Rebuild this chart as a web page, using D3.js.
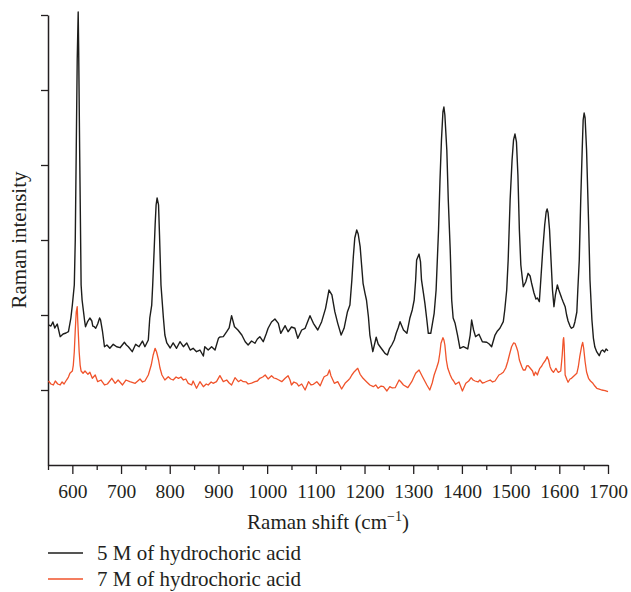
<!DOCTYPE html>
<html>
<head>
<meta charset="utf-8">
<script src="https://cdn.jsdelivr.net/npm/d3@7"></script>
<style>
  html, body { margin: 0; padding: 0; background: #fff; }
  svg { display: block; }
</style>
</head>
<body>
<svg id="chart" width="631" height="592"></svg>
<script>
// Raman spectra: [Raman shift (cm^-1), intensity (a.u.)]
const spectrum5M = [
  [551,1867],[556,1853],[560,1907],[564,1827],[569,1880],[575,1711],[581,1747],[587,1760],[592,1777],[597,1960],
  [600,2133],[604,2400],[606,3000],[608,4200],[610,5400],[612,6040],[613,5533],[615,4200],[618,2400],[620,2200],
  [622,2093],[625,1933],[627,1844],[631,1907],[636,1960],[640,1920],[642,1853],[645,1844],[648,1823],[652,1880],
  [656,1960],[658,1933],[662,1777],[666,1577],[671,1600],[677,1556],[684,1609],[691,1577],[698,1564],[707,1636],
  [711,1600],[715,1577],[723,1511],[730,1609],[737,1577],[744,1653],[749,1577],[756,1667],[759,1960],[763,2133],
  [765,2400],[768,2867],[770,3200],[772,3467],[774,3560],[777,3467],[779,3067],[782,2400],[787,1960],[790,1733],
  [794,1627],[801,1560],[807,1627],[814,1556],[821,1644],[828,1577],[835,1627],[842,1533],[848,1556],[855,1511],
  [862,1533],[869,1453],[872,1577],[879,1533],[886,1577],[893,1533],[900,1689],[903,1707],[910,1711],[917,1777],
  [922,1827],[927,1991],[933,1844],[940,1800],[948,1733],[955,1644],[961,1600],[968,1653],[975,1623],[980,1680],
  [985,1711],[992,1644],[998,1747],[1002,1823],[1009,1907],[1016,1947],[1023,1889],[1028,1756],[1037,1857],[1043,1777],
  [1050,1840],[1057,1823],[1063,1689],[1071,1800],[1078,1823],[1083,1907],[1088,1991],[1095,1889],[1104,1800],[1112,1911],
  [1120,2089],[1127,2333],[1133,2267],[1139,2044],[1145,1889],[1152,1733],[1158,1823],[1165,2044],[1170,2133],[1174,2467],
  [1177,2777],[1180,3027],[1184,3133],[1187,3080],[1191,2911],[1194,2667],[1197,2423],[1201,2289],[1204,2200],[1208,1977],
  [1211,1733],[1217,1511],[1224,1703],[1228,1613],[1232,1577],[1237,1533],[1242,1489],[1247,1467],[1251,1547],[1256,1600],
  [1261,1667],[1265,1756],[1269,1827],[1273,1911],[1280,1800],[1287,1756],[1293,1956],[1298,2067],[1302,2200],[1305,2467],
  [1307,2733],[1312,2813],[1315,2707],[1317,2467],[1321,2293],[1324,2156],[1328,1933],[1331,1756],[1336,1756],[1339,1867],
  [1343,2023],[1347,2333],[1352,3133],[1355,3800],[1358,4333],[1361,4707],[1363,4773],[1365,4667],[1369,4200],[1372,3533],
  [1376,2867],[1379,2200],[1382,1960],[1386,1889],[1391,1733],[1396,1556],[1403,1577],[1412,1547],[1417,1733],[1420,1933],
  [1424,1800],[1428,1711],[1435,1743],[1442,1644],[1451,1636],[1456,1613],[1461,1577],[1468,1733],[1473,1787],[1478,1823],
  [1485,1911],[1488,2067],[1492,2333],[1495,2733],[1499,3533],[1503,4067],[1506,4333],[1509,4413],[1512,4307],[1515,3867],
  [1518,3133],[1521,2667],[1526,2377],[1531,2440],[1536,2556],[1540,2520],[1543,2427],[1548,2293],[1552,2213],[1555,2227],
  [1559,2177],[1562,2467],[1566,2867],[1570,3200],[1573,3373],[1575,3413],[1577,3360],[1580,3133],[1583,2733],[1586,2333],
  [1589,2111],[1592,2267],[1596,2400],[1599,2333],[1605,2223],[1608,2173],[1612,2111],[1615,2000],[1618,1920],[1622,1853],
  [1625,1823],[1629,1840],[1632,1907],[1636,2040],[1638,2333],[1641,2733],[1644,3533],[1647,4200],[1649,4600],[1651,4693],
  [1653,4627],[1656,4200],[1660,3267],[1663,2467],[1667,1933],[1670,1693],[1673,1573],[1677,1507],[1682,1457],[1686,1520],
  [1689,1533],[1693,1507],[1696,1547],[1700,1524]
];

const spectrum7M = [
  [551,1120],[556,1080],[561,1067],[565,1120],[570,1080],[575,1067],[579,1107],[583,1080],[588,1133],[592,1173],
  [595,1223],[600,1253],[602,1333],[604,1511],[606,1800],[608,2040],[610,2111],[611,1933],[614,1511],[616,1333],
  [618,1253],[622,1223],[626,1253],[632,1209],[636,1236],[641,1156],[647,1200],[652,1111],[659,1133],[666,1067],
  [672,1080],[681,1156],[688,1089],[694,1133],[703,1067],[710,1133],[718,1111],[729,1089],[739,1147],[744,1107],
  [749,1120],[756,1200],[762,1333],[766,1467],[770,1556],[773,1507],[777,1400],[780,1293],[784,1200],[790,1133],
  [797,1177],[802,1147],[807,1133],[813,1173],[818,1156],[823,1173],[828,1133],[833,1147],[838,1089],[845,1067],
  [848,1120],[855,1023],[862,1111],[869,1044],[875,1080],[879,1067],[885,1107],[889,1089],[896,1111],[903,1191],
  [910,1111],[917,1133],[922,1093],[927,1067],[934,1164],[941,1111],[946,1133],[951,1111],[957,1107],[961,1080],
  [968,1093],[975,1111],[980,1120],[985,1156],[991,1173],[996,1200],[1002,1147],[1009,1191],[1014,1160],[1020,1147],
  [1024,1133],[1030,1111],[1037,1156],[1043,1191],[1047,1133],[1050,1067],[1055,1107],[1061,1089],[1065,1053],[1071,1080],
  [1078,1000],[1085,1111],[1090,1067],[1095,1076],[1102,1111],[1109,1057],[1113,1120],[1117,1177],[1124,1200],[1128,1267],
  [1131,1191],[1138,1089],[1145,1111],[1153,1013],[1160,1089],[1167,1133],[1170,1156],[1174,1200],[1179,1244],[1186,1289],
  [1191,1209],[1197,1156],[1204,1111],[1211,1067],[1218,1044],[1223,1067],[1228,1023],[1234,1053],[1239,1044],[1246,987],
  [1252,1044],[1257,1027],[1263,1031],[1271,1133],[1275,1107],[1280,1067],[1289,1031],[1297,1111],[1305,1223],[1312,1267],
  [1319,1177],[1328,1067],[1334,1000],[1339,1093],[1343,1200],[1348,1293],[1352,1377],[1355,1507],[1357,1623],[1361,1697],
  [1363,1667],[1365,1600],[1368,1400],[1371,1289],[1376,1200],[1379,1156],[1383,1120],[1387,1076],[1394,1107],[1401,987],
  [1408,1089],[1414,1120],[1419,1164],[1423,1133],[1427,1120],[1433,1107],[1437,1133],[1442,1093],[1447,1103],[1453,1120],
  [1458,1133],[1463,1107],[1468,1120],[1472,1160],[1476,1200],[1480,1213],[1485,1236],[1490,1293],[1494,1377],[1498,1480],
  [1502,1577],[1506,1627],[1509,1623],[1512,1573],[1515,1511],[1518,1400],[1523,1311],[1526,1267],[1530,1267],[1533,1320],
  [1536,1324],[1540,1293],[1545,1253],[1548,1191],[1551,1240],[1555,1200],[1557,1240],[1560,1289],[1564,1320],[1567,1356],
  [1572,1400],[1575,1444],[1578,1400],[1581,1311],[1584,1267],[1588,1236],[1591,1267],[1593,1289],[1596,1253],[1598,1236],
  [1603,1253],[1606,1467],[1608,1667],[1609,1697],[1610,1600],[1612,1200],[1616,1133],[1618,1103],[1622,1147],[1625,1156],
  [1630,1187],[1636,1223],[1639,1307],[1642,1444],[1646,1587],[1648,1636],[1650,1560],[1653,1377],[1656,1240],[1660,1156],
  [1664,1120],[1669,1089],[1673,1053],[1677,1023],[1682,1013],[1687,1000],[1694,993],[1700,977]
];

const shiftDomain = [550, 1700];
const intensityDomain = [0, 6000];
const majorShiftTicks = [600, 700, 800, 900, 1000, 1100, 1200, 1300, 1400, 1500, 1600, 1700];
const minorShiftTicks = [550, 650, 750, 850, 950, 1050, 1150, 1250, 1350, 1450, 1550, 1650];
const intensityTicks = [1000, 2000, 3000, 4000, 5000, 6000];

const seriesNames = ["5 M of hydrochoric acid", "7 M of hydrochoric acid"];
const seriesColors = ["#1d1d1b", "#f0532b"];

const serif = "'Liberation Serif', 'Times New Roman', Times, 'DejaVu Serif', serif";
const axisColor = "#231f20";
const svg = d3.select("#chart");

const x = d3.scaleLinear().domain(shiftDomain).range([48, 608]);
const y = d3.scaleLinear().domain(intensityDomain).range([465, 15]);

// minor ticks along the shift axis
const minorAxis = svg.append("g")
  .attr("transform", "translate(0,465)")
  .call(d3.axisBottom(x).tickValues(minorShiftTicks).tickSize(5).tickSizeOuter(0).tickFormat(""));
minorAxis.select(".domain").remove();

// major ticks + labels
const majorAxis = svg.append("g")
  .attr("transform", "translate(0,465)")
  .call(d3.axisBottom(x).tickValues(majorShiftTicks).tickSize(9).tickSizeOuter(0).tickFormat(d3.format("d")));
majorAxis.attr("font-family", null).attr("font-size", null);
majorAxis.selectAll("text")
  .attr("y", 33).attr("dy", null)
  .style("font-family", serif)
  .style("font-size", "19.5px")
  .attr("fill", axisColor);

const leftAxis = svg.append("g")
  .attr("transform", "translate(48,0)")
  .call(d3.axisLeft(y).tickValues(intensityTicks).tickSize(7).tickSizeOuter(0).tickFormat(""));

[minorAxis, majorAxis, leftAxis].forEach(g => {
  g.selectAll("line").attr("stroke", axisColor).attr("stroke-width", 1.3);
  g.selectAll(".domain").attr("stroke", axisColor).attr("stroke-width", 1.5);
});

// spectra
const line = d3.line().x(d => x(d[0])).y(d => y(d[1])).curve(d3.curveLinear);
[spectrum5M, spectrum7M].forEach((s, i) => {
  svg.append("path")
    .datum(s)
    .attr("fill", "none")
    .attr("stroke", seriesColors[i])
    .attr("stroke-width", i === 0 ? 1.4 : 1.3)
    .attr("stroke-linejoin", "round")
    .attr("d", line);
});

// axis titles
const xTitle = svg.append("text")
  .attr("x", 328).attr("y", 529)
  .attr("text-anchor", "middle")
  .attr("fill", axisColor)
  .style("font-family", serif)
  .style("font-size", "21px");
xTitle.append("tspan").text("Raman shift (cm");
xTitle.append("tspan").text("\u22121").attr("dy", -8).style("font-size", "14px");
xTitle.append("tspan").text(")").attr("dy", 8);

svg.append("text")
  .attr("transform", "translate(26,240) rotate(-90)")
  .attr("text-anchor", "middle")
  .attr("fill", axisColor)
  .style("font-family", serif)
  .style("font-size", "21px")
  .text("Raman intensity");

// legend
const legend = svg.append("g");
seriesNames.forEach((name, i) => {
  const ly = 553 + i * 26;
  legend.append("line")
    .attr("x1", 48).attr("x2", 83)
    .attr("y1", ly).attr("y2", ly)
    .attr("stroke", seriesColors[i]).attr("stroke-width", 1.4);
  legend.append("text")
    .attr("x", 97).attr("y", ly + 6.5)
    .attr("fill", axisColor)
    .style("font-family", serif)
    .style("font-size", "21px")
    .text(name);
});
</script>
</body>
</html>
